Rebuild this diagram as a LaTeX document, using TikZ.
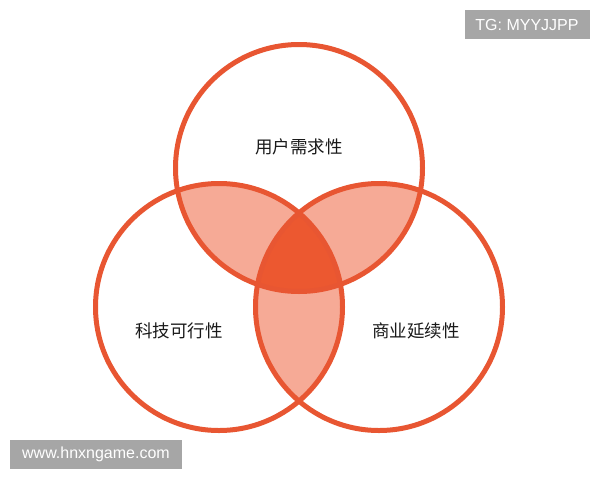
\documentclass[tikz,border=0pt]{standalone}
\usepackage{fontspec}
\setmainfont{Liberation Sans}
\newfontfamily\cjk{Noto Sans CJK SC}
\definecolor{ringred}{RGB}{232,86,50}
\definecolor{pairred}{RGB}{246,170,150}
\definecolor{corered}{RGB}{236,88,48}
\tikzset{every picture/.append style={x=1pt, y=-1pt}}
\tikzset{
    ring/.style={draw=ringred, line width=5pt},
    venn label/.style={font=\cjk\fontsize{17.5}{20}\selectfont, text=black!90},
    mark box/.style={fill=black!35, text=white, inner sep=0pt,
    	minimum height=29pt, font=\fontsize{16}{18}\selectfont}
}

\begin{document}
\begin{tikzpicture}
	\useasboundingbox (0,0) rectangle (600,480);
	\coordinate (user) at (299,168);
	\coordinate (tech) at (219,307);
	\coordinate (biz) at (379,307);
	\def\r{123.5pt}
	
	% pairwise overlaps
	\begin{scope} \clip (user) circle[radius=\r]; \fill[pairred] (tech) circle[radius=\r]; \end{scope}
	\begin{scope} \clip (user) circle[radius=\r]; \fill[pairred] (biz) circle[radius=\r]; \end{scope}
	\begin{scope} \clip (tech) circle[radius=\r]; \fill[pairred] (biz) circle[radius=\r]; \end{scope}
	% centre
	\begin{scope}
		\clip (user) circle[radius=\r]; \clip (tech) circle[radius=\r];
		\fill[corered] (biz) circle[radius=\r];
	\end{scope}
	
	\draw[ring] (user) circle[radius=\r];
	\draw[ring] (tech) circle[radius=\r];
	\draw[ring] (biz) circle[radius=\r];
	
	\node[venn label] (userlabel) at (299,147) {用户需求性};
	\node[venn label] (techlabel) at (179,331) {科技可行性};
	\node[venn label] (bizlabel) at (416,331) {商业延续性};
	
	\node[mark box, minimum width=125pt] (tg) at (527,24.5) {TG: MYYJJPP};
	\node[mark box, minimum width=172pt] (site) at (96,454.5) {www.hnxngame.com};
\end{tikzpicture}
\end{document}
